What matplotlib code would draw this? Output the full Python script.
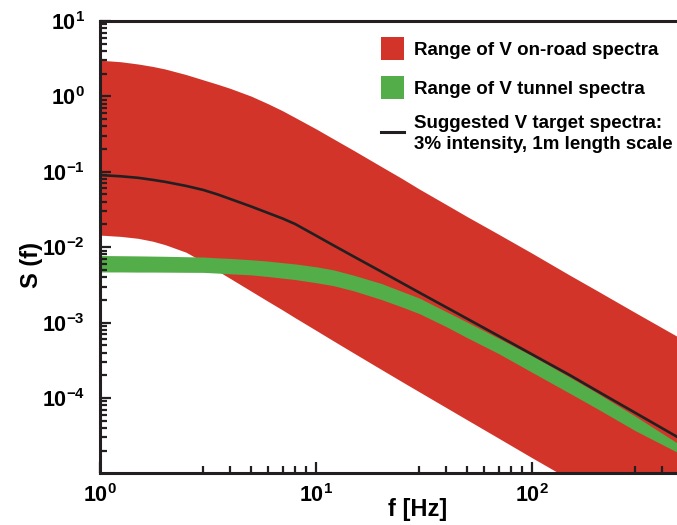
import numpy as np
import matplotlib
matplotlib.use("Agg")
import matplotlib.pyplot as plt
from matplotlib.patches import Patch
from matplotlib.lines import Line2D
from matplotlib.ticker import LogLocator, FuncFormatter, NullFormatter

plt.rcParams["font.family"] = ["Liberation Sans", "DejaVu Sans"]
plt.rcParams["font.weight"] = "bold"
plt.rcParams["mathtext.fontset"] = "custom"
plt.rcParams["mathtext.rm"] = "Liberation Sans:bold"
plt.rcParams["mathtext.bf"] = "Liberation Sans:bold"

# ---- data ----------------------------------------------------------------
freq = [1, 1.25, 1.5, 1.75, 2, 2.5, 3, 3.5, 4, 5, 6, 7, 8, 10, 12, 15, 20,
        25, 30, 40, 50, 70, 100, 150, 200, 300, 500]

road_upper = [3.02, 2.88, 2.69, 2.50, 2.31, 1.95, 1.66, 1.45, 1.28, 1.01,
              0.799, 0.645, 0.525, 0.371, 0.275, 0.191, 0.118, 0.0814,
              0.0593, 0.0369, 0.0255, 0.01486, 0.00832, 0.00423, 0.00265,
              0.00136, 0.000593]
road_lower = [0.01445, 0.01389, 0.0131, 0.01202, 0.0108, 0.00858, 0.0064,
              0.00486, 0.00386, 0.00262, 0.00191, 0.001468, 0.001159,
              0.000789, 0.000575, 0.000392, 0.00024, 0.0001644, 0.000121,
              7.47e-5, 5.14e-5, 2.93e-5, 1.61e-5, 8.27e-6, 5.12e-6, 2.61e-6,
              1.11e-6]

tunnel_upper = [0.00775, 0.0077, 0.00766, 0.00761, 0.00757, 0.00747, 0.0074,
                0.00722, 0.00709, 0.00681, 0.00653, 0.00623, 0.00599, 0.0055,
                0.00501, 0.00423, 0.00331, 0.00259, 0.00212, 0.0014, 0.001015,
                0.00062, 0.000363, 0.000188, 0.0001166, 5.75e-5, 2.26e-5]
tunnel_lower = [0.00469, 0.00469, 0.00467, 0.00467, 0.00466, 0.00464, 0.00463,
                0.00453, 0.00443, 0.00429, 0.00408, 0.00388, 0.00372, 0.00338,
                0.00309, 0.00263, 0.002026, 0.00161, 0.001318, 0.000885,
                0.000631, 0.000388, 0.000219, 0.0001148, 7.22e-5, 3.69e-5,
                1.74e-5]

target = [0.0904, 0.0871, 0.0832, 0.0782, 0.0736, 0.065, 0.0575, 0.0501,
          0.0437, 0.0347, 0.0284, 0.024, 0.0203, 0.01424, 0.01063, 0.00747,
          0.00476, 0.00335, 0.00251, 0.0016, 0.001127, 0.000665, 0.000379,
          0.0002, 0.000124, 6.37e-5, 2.75e-5]

labels = ["Range of V on-road spectra",
          "Range of V tunnel spectra",
          "Suggested V target spectra:\n3% intensity, 1m length scale"]

RED = "#d3342a"
GREEN = "#53ad48"
BLACK = "#231f20"

# ---- figure ----------------------------------------------------------------
fig = plt.figure(figsize=(6.77, 5.25), dpi=100)
ax = fig.add_axes([100 / 677, 52 / 525, 583 / 677, 452 / 525])

ax.fill_between(freq, road_lower, road_upper, color=RED, lw=0, zorder=1)
ax.fill_between(freq, tunnel_lower, tunnel_upper, color=GREEN, lw=0, zorder=1.1)
ax.plot(freq, target, color=BLACK, lw=1.9, zorder=2)

ax.set_xscale("log")
ax.set_yscale("log")
ax.set_xlim(1, 500)
ax.set_ylim(1.01e-5, 10)

def sci(v, pos):
    e = int(round(np.log10(v)))
    return r"$\mathbf{10^{%d}}$" % e

ax.xaxis.set_major_locator(LogLocator(base=10, numticks=10))
ax.yaxis.set_major_locator(LogLocator(base=10, numticks=10))
ax.xaxis.set_minor_locator(LogLocator(base=10, subs=np.arange(3, 10), numticks=20))
ax.yaxis.set_minor_locator(LogLocator(base=10, subs=np.arange(2, 10), numticks=20))
ax.xaxis.set_major_formatter(FuncFormatter(sci))
ax.yaxis.set_major_formatter(FuncFormatter(sci))
ax.xaxis.set_minor_formatter(NullFormatter())
ax.yaxis.set_minor_formatter(NullFormatter())

ax.tick_params(which="both", direction="in", top=False, right=False,
               color=BLACK, width=1.6)
ax.tick_params(which="major", length=8, labelsize=15.5)
ax.tick_params(axis="y", which="major", pad=11)
ax.tick_params(axis="x", which="major", pad=8)
ax.tick_params(which="minor", length=5)

for side in ["left", "bottom", "top"]:
    ax.spines[side].set_linewidth(2.2)
    ax.spines[side].set_color(BLACK)
ax.spines["right"].set_visible(False)

ax.set_xlabel("f [Hz]", fontsize=17, fontweight="bold")
ax.set_ylabel("S (f)", fontsize=17, fontweight="bold")
ax.xaxis.set_label_coords(0.545, -0.055)
ax.yaxis.set_label_coords(-0.098, 0.46)

handles = [Patch(facecolor=RED, edgecolor="none"),
           Patch(facecolor=GREEN, edgecolor="none"),
           Line2D([0], [0], color=BLACK, lw=2.2)]
leg = ax.legend(handles, labels, loc="upper left", bbox_to_anchor=(0.482, 0.964),
                frameon=False, fontsize=13.5, handlelength=1.22, handleheight=1.5,
                handletextpad=0.55, labelspacing=0.85, borderpad=0, borderaxespad=0)
for t in leg.get_texts():
    t.set_fontweight("bold")
    t.set_linespacing(1.35)

fig.savefig("out.png", dpi=100)
